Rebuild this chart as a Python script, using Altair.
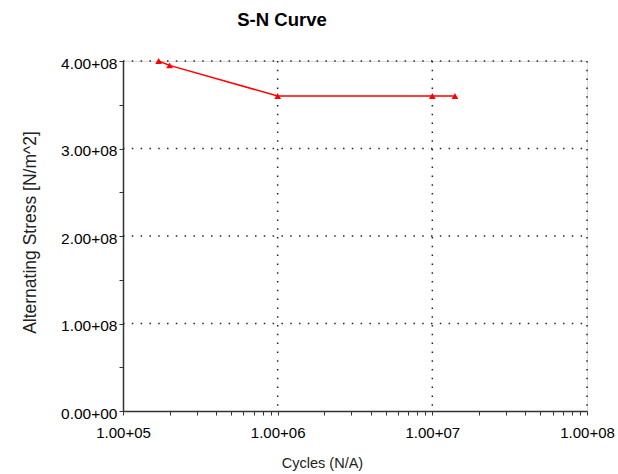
import altair as alt
import pandas as pd

# S-N curve data
cycles = [1.7e5, 2.0e5, 1.0e6, 1.0e7, 1.4e7]
stress = [4.00e8, 3.95e8, 3.60e8, 3.60e8, 3.60e8]

x_ticks = [1e5, 2e5, 3e5, 4e5, 5e5, 6e5, 7e5, 8e5, 9e5,
           1e6, 2e6, 3e6, 4e6, 5e6, 6e6, 7e6, 8e6, 9e6,
           1e7, 2e7, 3e7, 4e7, 5e7, 6e7, 7e7, 8e7, 9e7, 1e8]
y_ticks = [0, 0.5e8, 1e8, 1.5e8, 2e8, 2.5e8, 3e8, 3.5e8, 4e8]
x_grid = [1e6, 1e7, 1e8]
y_grid = [1e8, 2e8, 3e8, 4e8]

W, H = 464, 350
FONT = "Liberation Sans"

df = pd.DataFrame({"cycles": cycles, "stress": stress})
gx = pd.DataFrame({"cycles": x_grid})
gy = pd.DataFrame({"stress": y_grid})

fmt = ("datum.value == 0 ? '0.00+00' : format(datum.value / pow(10, floor(log(datum.value) / LN10 + 1e-9)), '.2f')"
       " + '+' + format(floor(log(datum.value) / LN10 + 1e-9), '02d')")

xscale = alt.Scale(type="log", domain=[1e5, 1e8], nice=False)
yscale = alt.Scale(domain=[0, 4e8], nice=False, zero=True)

x_axis = alt.Axis(
    values=x_ticks, grid=False, tickSize=4, tickColor="#333", tickWidth=1,
    domainColor="#333", domainWidth=1.5,
    labelExpr="abs(log(datum.value)/LN10 - round(log(datum.value)/LN10)) < 1e-6 ? (" + fmt + ") : ''",
    labelFont=FONT, labelFontSize=15, labelColor="black", labelPadding=10,
    labelFlush=False, labelOverlap=False,
    title="Cycles (N/A)", titleFont=FONT, titleFontSize=14.5, titleFontWeight="normal",
    titleColor="#222", titleX=199, titleY=56, titleBaseline="alphabetic",
)
y_axis = alt.Axis(
    values=y_ticks, grid=False, tickSize=4, tickColor="#333", tickWidth=1,
    domainColor="#333", domainWidth=1.5,
    labelExpr="datum.value % 100000000 == 0 ? (" + fmt + ") : ''",
    labelFont=FONT, labelFontSize=15.5, labelColor="black", labelPadding=2, labelOffset=2,
    labelOverlap=False, labelFlush=False,
    title="Alternating Stress [N/m^2]", titleFont=FONT, titleFontSize=17.5,
    titleFontWeight="normal", titleColor="#222", titleX=-93, titleY=171,
    titleAngle=270, titleBaseline="middle", titleAlign="center",
)

grid_style = dict(color="#222", strokeDash=[1.5, 7.3], strokeWidth=1.5)

vgrid = alt.Chart(gx).mark_rule(**grid_style).encode(
    x=alt.X("cycles:Q", scale=xscale), y=alt.value(0), y2=alt.value(H)
)
hgrid = alt.Chart(gy).mark_rule(**grid_style).encode(
    y=alt.Y("stress:Q", scale=yscale), x=alt.value(0), x2=alt.value(W)
)

line = alt.Chart(df).mark_line(
    color="#ff0000", strokeWidth=1.5,
    point=alt.OverlayMarkDef(shape="triangle-up", size=45, filled=True, color="#ff0000", opacity=1),
).encode(
    x=alt.X("cycles:Q", scale=xscale, axis=x_axis),
    y=alt.Y("stress:Q", scale=yscale, axis=y_axis),
)

chart = alt.layer(vgrid, hgrid, line).properties(
    width=W, height=H,
    title=alt.TitleParams(
        "S-N Curve", anchor="middle", dx=-73, font=FONT, fontSize=18.5,
        fontWeight="bold", color="black", offset=12, baseline="alphabetic",
    ),
    padding={"left": 123, "top": 61, "right": 31, "bottom": 63},
    autosize=alt.AutoSizeParams(type="none"),
).configure_view(stroke=None).configure(background="white")

chart.save("out.html", embed_options={"renderer": "svg", "actions": False})
